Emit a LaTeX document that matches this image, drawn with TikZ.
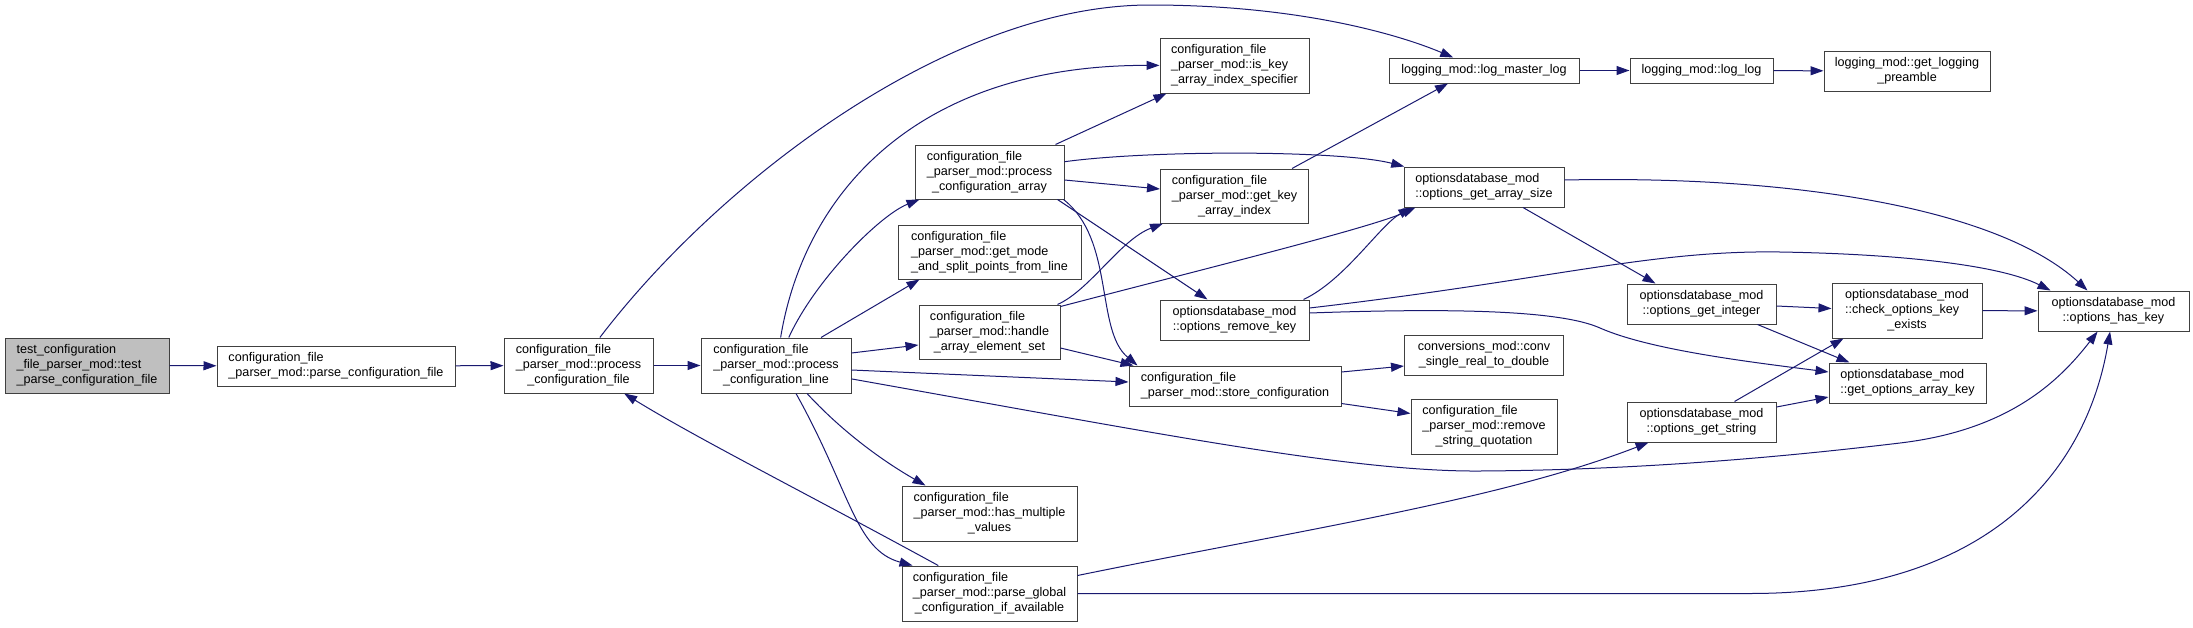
\documentclass[tikz,border=0pt]{standalone}
\usepackage{fontspec}
\setmainfont{Liberation Sans}
\usetikzlibrary{arrows.meta,calc}
\definecolor{edgec}{HTML}{191970}
\definecolor{rootfill}{HTML}{BFBFBF}
\definecolor{boxline}{HTML}{404040}
\newcommand{\dlabel}[2]{\begin{tabular}{@{}l@{}}#1\\\multicolumn{1}{@{}c@{}}{#2}\end{tabular}}
\tikzset{
  fn/.style={draw=boxline, line width=1pt, fill=white, inner sep=0pt, text=black,
    font=\fontsize{12.6}{15}\selectfont},
  e/.style={draw=edgec, line width=1pt, -{Triangle[length=13pt,width=9pt]}}
}
\begin{document}
\begin{tikzpicture}[x=1pt,y=-1pt]
\useasboundingbox (0,0) rectangle (2193,627);
% nodes
\node[fn, fill=rootfill, minimum width=164pt, minimum height=55pt] (test) at (87,365.5) {\dlabel{test\_configuration\\\_file\_parser\_mod::test}{\_parse\_configuration\_file}};
\node[fn, minimum width=238pt, minimum height=40pt] (parse) at (336,366) {\dlabel{configuration\_file}{\_parser\_mod::parse\_configuration\_file}};
\node[fn, minimum width=149pt, minimum height=55pt] (pf) at (578.5,365.5) {\dlabel{configuration\_file\\\_parser\_mod::process}{\_configuration\_file}};
\node[fn, minimum width=150pt, minimum height=55pt] (pl) at (776,365.5) {\dlabel{configuration\_file\\\_parser\_mod::process}{\_configuration\_line}};
\node[fn, minimum width=149pt, minimum height=54pt] (pa) at (989.5,172) {\dlabel{configuration\_file\\\_parser\_mod::process}{\_configuration\_array}};
\node[fn, minimum width=183pt, minimum height=54pt] (gm) at (989.5,252) {\dlabel{configuration\_file\\\_parser\_mod::get\_mode}{\_and\_split\_points\_from\_line}};
\node[fn, minimum width=141pt, minimum height=54pt] (ha) at (989.5,332) {\dlabel{configuration\_file\\\_parser\_mod::handle}{\_array\_element\_set}};
\node[fn, minimum width=175pt, minimum height=55pt] (hm) at (989.5,513.5) {\dlabel{configuration\_file\\\_parser\_mod::has\_multiple}{\_values}};
\node[fn, minimum width=175pt, minimum height=55pt] (pg) at (989.5,593.5) {\dlabel{configuration\_file\\\_parser\_mod::parse\_global}{\_configuration\_if\_available}};
\node[fn, minimum width=149pt, minimum height=55pt] (isk) at (1234.5,65.5) {\dlabel{configuration\_file\\\_parser\_mod::is\_key}{\_array\_index\_specifier}};
\node[fn, minimum width=148pt, minimum height=54pt] (gka) at (1234.5,196) {\dlabel{configuration\_file\\\_parser\_mod::get\_key}{\_array\_index}};
\node[fn, minimum width=149pt, minimum height=40pt] (orm) at (1234.5,320) {\dlabel{optionsdatabase\_mod}{::options\_remove\_key}};
\node[fn, minimum width=212pt, minimum height=40pt] (st) at (1235,386) {\dlabel{configuration\_file}{\_parser\_mod::store\_configuration}};
\node[fn, minimum width=190pt, minimum height=25pt] (lml) at (1484,70.5) {logging\_mod::log\_master\_log};
\node[fn, minimum width=160pt, minimum height=40pt] (ogas) at (1484,187) {\dlabel{optionsdatabase\_mod}{::options\_get\_array\_size}};
\node[fn, minimum width=159pt, minimum height=40pt] (conv) at (1484,355) {\dlabel{conversions\_mod::conv}{\_single\_real\_to\_double}};
\node[fn, minimum width=146pt, minimum height=55pt] (rsq) at (1484,426.5) {\dlabel{configuration\_file\\\_parser\_mod::remove}{\_string\_quotation}};
\node[fn, minimum width=143pt, minimum height=25pt] (ll) at (1701.5,70.5) {logging\_mod::log\_log};
\node[fn, minimum width=149pt, minimum height=40pt] (ogi) at (1701.5,304) {\dlabel{optionsdatabase\_mod}{::options\_get\_integer}};
\node[fn, minimum width=149pt, minimum height=40pt] (ogs) at (1701.5,422) {\dlabel{optionsdatabase\_mod}{::options\_get\_string}};
\node[fn, minimum width=166pt, minimum height=40pt] (glp) at (1907,71) {\dlabel{logging\_mod::get\_logging}{\_preamble}};
\node[fn, minimum width=150pt, minimum height=55pt] (coke) at (1907,310.5) {\dlabel{optionsdatabase\_mod\\::check\_options\_key}{\_exists}};
\node[fn, minimum width=157pt, minimum height=40pt] (goak) at (1907.5,383) {\dlabel{optionsdatabase\_mod}{::get\_options\_array\_key}};
\node[fn, minimum width=151pt, minimum height=40pt] (ohk) at (2113.5,311) {\dlabel{optionsdatabase\_mod}{::options\_has\_key}};
% edges
\draw[e] (test) -- (parse);
\draw[e] (parse) -- (pf);
\draw[e] (pf) -- (pl);
\draw[e] (pf) .. controls (720,180) and (950,5) .. (1150,5) .. controls (1300,5) and (1400,35) .. (lml);
\draw[e] (pl) .. controls (815,280) and (880,215) .. (pa);
\draw[e] (pl) .. controls (805,190) and (920,65) .. (isk);
\draw[e] ($(pl.north)+(45,0)$) -- ($(gm.south)+(-70,0)$);
\draw[e] ($(pl.east)+(0,-12.5)$) -- ($(ha.west)+(0,13)$);
\draw[e] ($(pl.east)+(0,4.5)$) -- ($(st.west)+(0,-4)$);
\draw[e] (pl) .. controls (1150,432) and (1350,472) .. (1480,471) .. controls (1650,470) and (1800,455) .. (1900,443) .. controls (2010,430) and (2060,380) .. (ohk);
\draw[e] ($(pl.south)+(31,0)$) .. controls (850,440) and (895,468) .. ($(hm.north)+(-64,0)$);
\draw[e] ($(pl.south)+(20,0)$) .. controls (850,490) and (855,550) .. ($(pg.north)+(-77,0)$);
\draw[e] (pg) .. controls (800,490) and (700,440) .. (pf);
\draw[e] (pg) .. controls (1300,530) and (1500,500) .. (ogs);
\draw[e] (pg) -- (1750,593.5) .. controls (1980,593.5) and (2085,480) .. (ohk);
\draw[e] ($(pa.north east)+(-9,0)$) -- ($(isk.south west)+(7,0)$);
\draw[e] ($(pa.east)+(0,8)$) -- ($(gka.west)+(0,-7)$);
\draw[e] (pa) .. controls (1150,150) and (1340,150) .. (ogas);
\draw[e] ($(pa.south east)+(-7,0)$) -- ($(orm.north)+(-27,0)$);
\draw[e] ($(pa.south east)+(-1,0)$) .. controls (1115,240) and (1095,330) .. ($(st.north west)+(9,0)$);
\draw[e] ($(ha.north east)+(-3,0)$) .. controls (1090,290) and (1120,240) .. ($(gka.south west)+(3,0)$);
\draw[e] ($(ha.north east)+(0,2)$) .. controls (1200,270) and (1370,228) .. ($(ogas.south west)+(12,0)$);
\draw[e] ($(ha.east)+(0,16)$) -- ($(st.north west)+(5,0)$);
\draw[e] ($(gka.north east)+(-17,0)$) -- ($(lml.south)+(-36,0)$);
\draw[e] ($(orm.north east)+(-6,0)$) .. controls (1345,280) and (1380,225) .. ($(ogas.south west)+(8,0)$);
\draw[e] ($(orm.east)+(0,-12)$) .. controls (1550,280) and (1650,250) .. (1780,252) .. controls (1900,254) and (2000,265) .. ($(ohk.north west)+(13,0)$);
\draw[e] ($(orm.east)+(0,-7)$) .. controls (1450,308) and (1560,310) .. (1600,328) .. controls (1650,350) and (1750,362) .. ($(goak.west)+(0,-11)$);
\draw[e] ($(st.east)+(0,-14)$) -- ($(conv.west)+(0,11)$);
\draw[e] ($(st.south east)+(0,-3)$) -- ($(rsq.west)+(0,-13)$);
\draw[e] (lml) -- (ll);
\draw[e] (ll) -- (glp);
\draw[e] ($(ogas.south)+(39,0)$) -- ($(ogi.north)+(-46,0)$);
\draw[e] ($(ogas.east)+(0,-7)$) .. controls (1800,175) and (2000,210) .. ($(ohk.north west)+(50,0)$);
\draw[e] ($(ogi.east)+(0,2)$) -- ($(coke.west)+(0,-2)$);
\draw[e] ($(ogi.south east)+(-19,0)$) -- ($(goak.north west)+(21,0)$);
\draw[e] (coke) -- (ohk);
\draw[e] ($(ogs.north)+(33,0)$) -- ($(coke.south west)+(12,0)$);
\draw[e] ($(ogs.east)+(0,-15)$) -- ($(goak.west)+(0,14)$);
\end{tikzpicture}
\end{document}
